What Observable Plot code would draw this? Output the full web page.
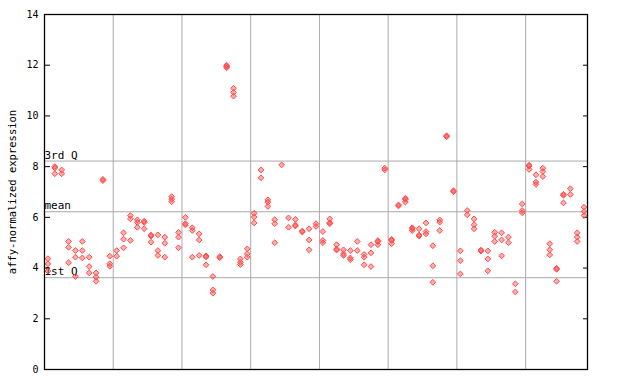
<!DOCTYPE html>
<html>
<head>
<meta charset="utf-8">
<script src="https://cdn.jsdelivr.net/npm/d3@7"></script>
<script src="https://cdn.jsdelivr.net/npm/@observablehq/plot@0.6"></script>
<style>
  html, body { margin: 0; padding: 0; background: #fff; }
  #chart svg { display: block; }
</style>
</head>
<body>
<div id="chart"></div>
<script>
// Replicate values per sample (79 samples, left to right); null = no replicate
const rep1 = [4.37, 8.00, 7.87, 5.05, 4.69, 5.05, 4.43, 3.81, 7.50, 4.47,
              4.69, 5.39, 6.07, 5.90, 5.85, 5.30, 5.31, 5.22, 6.82, 5.41,
              6.00, 5.59, 5.35, 4.48, 3.67, 4.45, 12.00, 11.09, 4.36, 4.76,
              6.16, 7.87, 6.69, 5.91, 8.07, 5.98, 5.92, 5.46, 5.55, 5.75,
              5.44, 5.94, 4.92, 4.72, 4.69, 5.05, 4.54, 4.92, 5.08, 7.94,
              5.13, 6.49, 6.75, 5.59, 5.55, 5.78, 4.88, 5.90, 9.22, 7.05,
              4.68, 6.27, 5.94, 4.71, 4.68, 5.41, 5.39, 5.22, 3.38, 6.53,
              8.06, 7.68, 7.94, 4.96, 3.99, 6.91, 7.13, 5.39, 6.40];
const rep2 = [4.17, 7.95, 7.72, 4.82, 4.43, 4.69, 4.06, 3.64, 7.45, 4.17,
              4.47, 5.14, 5.94, 5.80, 5.80, 5.26, 4.69, 4.98, 6.72, 5.22,
              5.75, 5.48, 5.11, 4.44, 3.14, 4.41, 11.95, 10.93, 4.23, 4.56,
              6.01, 7.56, 6.60, 5.75, null, 5.61, 5.70, 5.42, 5.11, 5.64,
              5.09, 5.79, 4.75, 4.56, 4.40, 4.69, 4.43, 4.60, 5.04, 7.87,
              5.09, 6.45, 6.71, 5.55, 5.30, 5.44, 4.09, 5.81, 9.18, 7.01,
              4.29, 6.10, 5.71, 4.67, 4.36, 5.26, 5.11, 5.00, 3.06, 6.27,
              8.02, 7.39, 7.81, 4.72, 3.95, 6.87, 6.90, 5.22, 6.23];
const rep3 = [3.88, 7.72, null, 4.21, 3.67, 4.40, 3.81, 3.48, null, 4.07,
              null, 4.80, 5.09, 5.61, 5.55, 5.02, 4.50, 4.43, 6.62, 4.80,
              5.70, 4.43, 4.50, 4.13, 3.01, null, 11.90, 10.78, 4.14, 4.43,
              5.78, null, 6.43, 5.00, null, null, 5.66, null, 4.72, null,
              5.00, 5.75, 4.71, 4.50, 4.33, null, 4.13, 4.06, 4.92, null,
              4.96, null, 6.60, 5.48, 5.26, 5.35, 3.44, 5.48, null, null,
              3.77, null, 5.55, null, 3.89, 5.05, 4.48, null, null, 6.18,
              7.89, 7.30, 7.61, 4.52, 3.48, 6.57, null, 5.05, 6.07];

// Reference lines
const refLabels = ["1st Q", "mean", "3rd Q"];
const refValues = [3.62, 6.22, 8.22];

// Group separators (every 10 samples)
const groupBreaks = [10.5, 20.5, 30.5, 40.5, 50.5, 60.5, 70.5];

const yTicks = [0, 2, 4, 6, 8, 10, 12, 14];
const yTitle = "affy-normalized expression";

const points = [];
[rep1, rep2, rep3].forEach(rep => rep.forEach((v, i) => {
  if (v != null) points.push({i: i + 1, v});
}));
const refs = refLabels.map((label, k) => ({label, v: refValues[k]}));

const red = "#ff4b4b";

const plot = Plot.plot({
  width: 640,
  height: 384,
  marginLeft: 44,
  marginRight: 53,
  marginTop: 14,
  marginBottom: 15,
  style: {fontFamily: "'DejaVu Sans Mono', monospace", fontSize: "10px", color: "#000", background: "#fff"},
  x: {domain: [0.5, 79.5], axis: null},
  y: {domain: [0, 14], ticks: yTicks},
  marks: [
    Plot.ruleX(groupBreaks, {stroke: "#aaaaaa", strokeWidth: 1}),
    Plot.ruleY(refs, {y: "v", stroke: "#aaaaaa", strokeWidth: 1}),
    Plot.text(refs, {x: 0.5, y: "v", text: "label", textAnchor: "start", dy: -6, fill: "#000", fontSize: 11}),
    Plot.axisY({anchor: "left", ticks: yTicks, tickSize: -6, tickPadding: 12, tickFormat: d => String(d), label: null}),
    Plot.axisY({anchor: "right", ticks: yTicks, tickSize: -5, tickFormat: () => "", label: null}),
    Plot.text([yTitle], {frameAnchor: "left", textAnchor: "middle", text: d => d, rotate: -90, dx: -32, fill: "#000", fontSize: 10.5}),
    Plot.dot(points, {x: "i", y: "v", symbol: "diamond2", r: 2.6, stroke: red, strokeWidth: 1, fill: red, fillOpacity: 0.45}),
    Plot.frame({stroke: "#000", strokeWidth: 1.3})
  ]
});
document.getElementById("chart").appendChild(plot);
</script>
</body>
</html>
